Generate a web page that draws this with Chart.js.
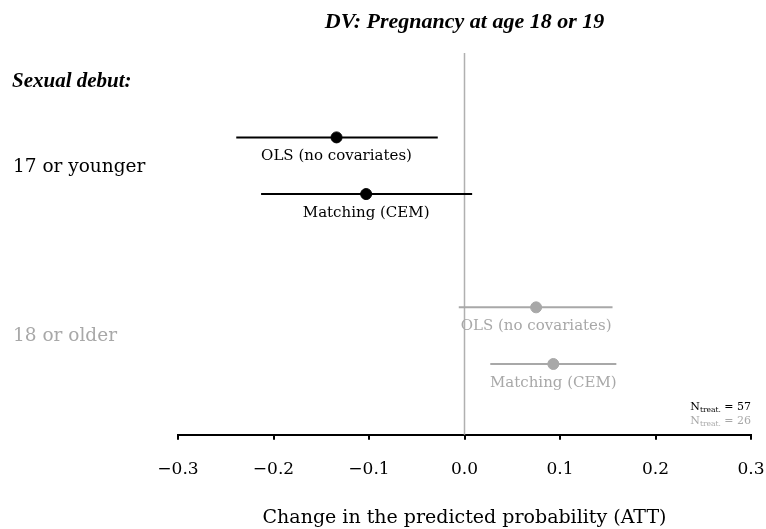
<!DOCTYPE html>
<html>
<head>
<meta charset="utf-8">
<script src="https://cdn.jsdelivr.net/npm/chart.js@4.4.0/dist/chart.umd.min.js"></script>
<style>
    html, body { margin: 0; padding: 0; background: #ffffff; }
    #wrap { width: 766px; height: 529px; position: relative; }
</style>
</head>
<body>
<div id="wrap"><canvas id="coefChart"></canvas></div>
<script>
const groups = ['17 or younger', '18 or older'];
const models = ['OLS (no covariates)', 'Matching (CEM)'];
const groupRows = [[1, 2], [4, 5]];

const estimates17 = [-0.134, -0.103];
const lower17 = [-0.239, -0.213];
const upper17 = [-0.028, 0.008];

const estimates18 = [0.075, 0.093];
const lower18 = [-0.006, 0.027];
const upper18 = [0.155, 0.159];

const nTreated = [57, 26];
const xTicks = [-0.3, -0.2, -0.1, 0.0, 0.1, 0.2, 0.3];

const colors = {
    young: '#000000',
    old: '#a8a8a8',
    zero: '#b0b0b0',
    text: '#000000'
};
const groupColors = [colors.young, colors.old];

const serif = '"DejaVu Serif", serif';
const titleFont = '"Liberation Serif", serif';

const series = [
    { est: estimates17, lo: lower17, hi: upper17 },
    { est: estimates18, lo: lower18, hi: upper18 }
];

const datasets = [];
series.forEach((s, g) => {
    s.est.forEach((v, m) => {
        const row = groupRows[g][m];
        datasets.push({
            type: 'line',
            data: [{ x: s.lo[m], y: row }, { x: s.hi[m], y: row }],
            borderColor: groupColors[g],
            borderWidth: 2,
            pointRadius: 0,
            fill: false
        });
    });
});
series.forEach((s, g) => {
    datasets.push({
        type: 'scatter',
        data: s.est.map((v, m) => ({ x: v, y: groupRows[g][m] })),
        backgroundColor: groupColors[g],
        borderColor: groupColors[g],
        pointRadius: 5.5,
        pointHoverRadius: 5.5
    });
});

function fmtTick(v) {
    const s = Math.abs(v).toFixed(1);
    return v < -1e-9 ? '\u2212' + s : s;
}

const decorations = {
    id: 'decorations',
    beforeDatasetsDraw(chart) {
        const { ctx, chartArea, scales } = chart;
        const x0 = scales.x.getPixelForValue(0);
        ctx.save();
        ctx.strokeStyle = colors.zero;
        ctx.lineWidth = 1.5;
        ctx.beginPath();
        ctx.moveTo(x0, chartArea.top);
        ctx.lineTo(x0, chartArea.bottom);
        ctx.stroke();
        ctx.restore();
    },
    afterDraw(chart) {
        const { ctx, chartArea, scales } = chart;
        ctx.save();

        // title
        ctx.fillStyle = colors.text;
        ctx.font = 'bold italic 22px ' + titleFont;
        ctx.textAlign = 'center';
        ctx.textBaseline = 'middle';
        ctx.fillText('DV: Pregnancy at age 18 or 19', (chartArea.left + chartArea.right) / 2, 22);

        ctx.font = 'bold italic 21px ' + titleFont;
        ctx.textAlign = 'left';
        ctx.fillText('Sexual debut:', 12, 82);

        // group labels
        ctx.font = '18.5px ' + serif;
        groups.forEach((label, g) => {
            const yc = (scales.y.getPixelForValue(groupRows[g][0]) + scales.y.getPixelForValue(groupRows[g][1])) / 2;
            ctx.fillStyle = groupColors[g];
            ctx.fillText(label, 13, yc + 1);
        });

        // model labels under each point
        ctx.font = '15px ' + serif;
        ctx.textAlign = 'center';
        series.forEach((s, g) => {
            s.est.forEach((v, m) => {
                ctx.fillStyle = groupColors[g];
                ctx.fillText(models[m], scales.x.getPixelForValue(v), scales.y.getPixelForValue(groupRows[g][m]) + 19);
            });
        });

        // N treated
        const right = chartArea.right;
        nTreated.forEach((n, i) => {
            const y = 407 + i * 14;
            ctx.fillStyle = groupColors[i];
            ctx.textAlign = 'left';
            ctx.font = '11px ' + serif;
            const tail = ' = ' + n;
            const wN = ctx.measureText('N').width;
            const wTail = ctx.measureText(tail).width;
            ctx.font = '7.5px ' + serif;
            const wSub = ctx.measureText('treat.').width;
            let x = right - wN - wSub - wTail;
            ctx.font = '11px ' + serif;
            ctx.fillText('N', x, y);
            x += wN;
            ctx.font = '7.5px ' + serif;
            ctx.fillText('treat.', x, y + 3);
            x += wSub;
            ctx.font = '11px ' + serif;
            ctx.fillText(tail, x, y);
        });

        ctx.restore();
    }
};

new Chart(document.getElementById('coefChart').getContext('2d'), {
    type: 'scatter',
    data: { datasets: datasets },
    options: {
        responsive: true,
        maintainAspectRatio: false,
        animation: false,
        events: [],
        layout: {
            padding: { left: 178, right: 15, top: 53, bottom: 0 }
        },
        plugins: {
            legend: { display: false },
            tooltip: { enabled: false }
        },
        scales: {
            x: {
                type: 'linear',
                min: -0.3,
                max: 0.3,
                afterBuildTicks: (scale) => {
                    scale.ticks = xTicks.map(v => ({ value: v }));
                },
                afterFit: (scale) => {
                    scale.paddingLeft = 0;
                    scale.paddingRight = 0;
                },
                ticks: {
                    callback: (v) => fmtTick(v),
                    color: colors.text,
                    font: { family: serif, size: 17 },
                    padding: 20,
                    maxRotation: 0,
                    autoSkip: false
                },
                grid: {
                    drawOnChartArea: false,
                    drawTicks: true,
                    tickLength: 5,
                    color: colors.text,
                    lineWidth: 2
                },
                border: { display: true, color: colors.text, width: 2 },
                title: {
                    display: true,
                    text: 'Change in the predicted probability (ATT)',
                    color: colors.text,
                    font: { family: serif, size: 19 },
                    padding: { top: 6, bottom: 0 }
                }
            },
            y: {
                type: 'linear',
                display: false,
                reverse: true,
                min: -0.49,
                max: 6.25
            }
        }
    },
    plugins: [decorations]
});
</script>
</body>
</html>
